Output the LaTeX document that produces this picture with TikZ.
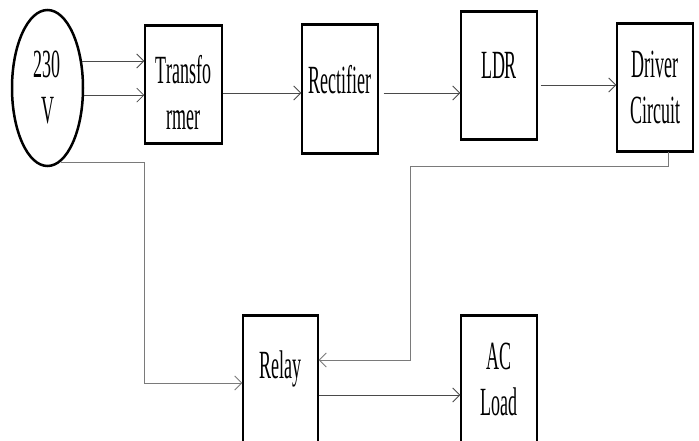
\documentclass[tikz,border=0pt]{standalone}
\usepackage{graphicx}
\usepackage{fontspec}
\setmainfont{Liberation Serif}
\usepackage{tikz}
\usetikzlibrary{arrows.meta,calc,positioning,shapes.geometric}
\definecolor{cizgiGri}{HTML}{4A4A4A}
\definecolor{acikGri}{HTML}{7A7A7A}
\newcommand{\dar}[1]{\scalebox{0.45}[1]{#1}}

\begin{document}
\begin{tikzpicture}[x=1pt,y=-1pt,
  font=\fontsize{40}{46}\selectfont,
  kutu/.style={draw,line width=1.4pt,minimum width=76pt,inner sep=0pt,align=center},
  kaynak/.style={draw,ellipse,line width=2.5pt,minimum width=71pt,minimum height=156pt,inner sep=0pt,align=center},
  bag/.style={cizgiGri,line width=0.8pt,-{Straight Barb[length=7pt,width=14pt]}},
  kalin/.style={line width=3.2pt}]
\useasboundingbox (0,0) rectangle (699,441);
\node[kaynak] (src) at (47.5,88) {\dar{230}\\\dar{V}};
\node[kutu,minimum width=77pt,minimum height=117pt,text height=91pt] (trans) at (183.5,84.5) {\dar{Transfo}\\\dar{rmer}};
\node[kutu,minimum height=128pt,text depth=20pt] (rect) at (340,89) {\dar{Rectifier}};
\node[kutu,minimum height=127pt,text depth=20pt] (ldr) at (499,75.5) {\dar{LDR}};
\node[kutu,minimum height=127pt] (drv) at (655,87.5) {\dar{Driver}\\\dar{Circuit}};
\node[kutu,minimum width=75pt,minimum height=126pt,text depth=29pt] (relay) at (280.5,379) {\dar{Relay}};
\node[kutu,minimum height=126pt] (load) at (499,379) {\dar{AC}\\\dar{Load}};
\foreach \n in {trans,rect,ldr,drv,relay,load}
  \draw[kalin] (\n.north west)--(\n.north east) (\n.south west)--(\n.south east);
\draw[bag] (src.38) -- (src.38 -| trans.west);
\draw[bag] (src.-11) -- (src.-11 -| trans.west);
\draw[bag] ([yshift=-8.5pt]trans.east) -- ([yshift=-8.5pt]trans.east -| rect.west);
\draw[bag] ([xshift=5pt,yshift=-4pt]rect.east) -- ([yshift=-4pt]rect.east -| ldr.west);
\draw[bag] ([xshift=3pt,yshift=-9.5pt]ldr.east) -- ([yshift=-9.5pt]ldr.east -| drv.west);
\draw[bag,acikGri] ([xshift=13pt]drv.south) |- ++(-258,15) |- ([yshift=19pt]relay.east);
\draw[bag,acikGri] (src.-80) -- ++(84,0) |- ([yshift=-4pt]relay.west);
\draw[bag] ([yshift=-16pt]relay.east) -- ([yshift=-16pt]relay.east -| load.west);
\end{tikzpicture}
\end{document}
